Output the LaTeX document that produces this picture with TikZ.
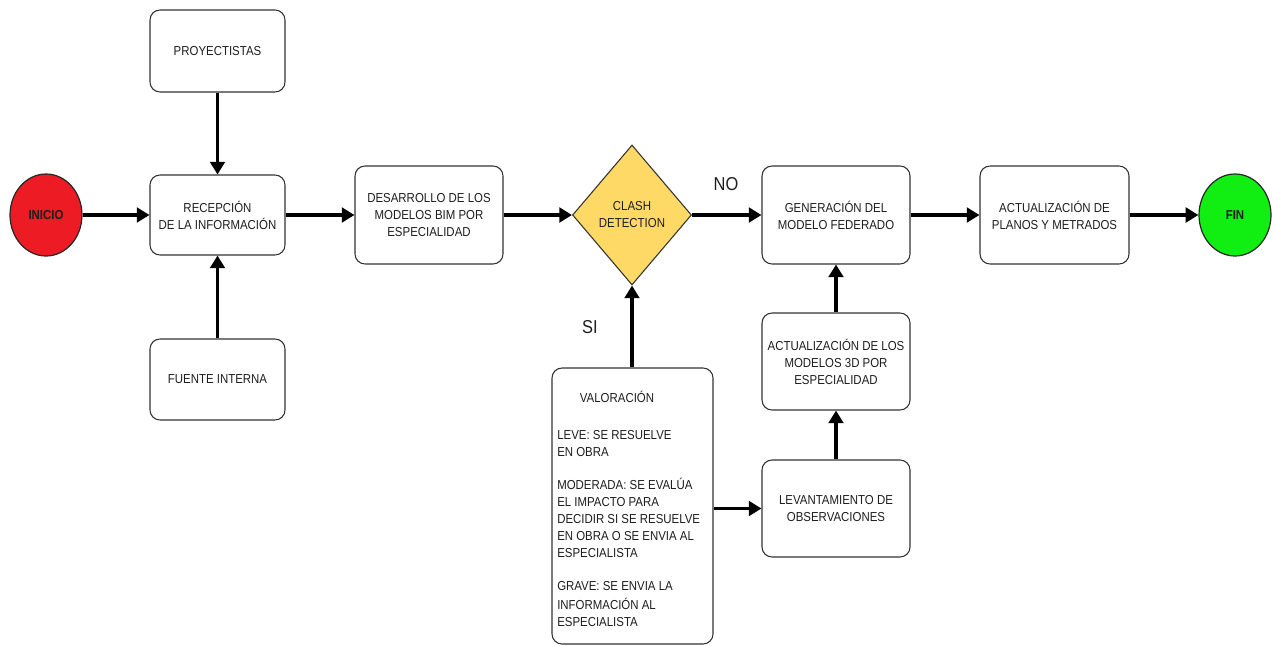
\documentclass[tikz,border=0pt]{standalone}
\usepackage{fontspec}
\setmainfont{Liberation Sans}[FakeStretch=0.88]
\usetikzlibrary{shapes.geometric,arrows.meta}
\definecolor{boxline}{HTML}{333333}
\definecolor{txt}{HTML}{1E1E1E}
\definecolor{startred}{HTML}{ED1C24}
\definecolor{endgreen}{HTML}{11EE11}
\definecolor{decision}{HTML}{FFD966}
\begin{document}
\begin{tikzpicture}[x=0.75pt,y=-0.75pt,
  box/.style={draw=boxline, line width=0.8pt, rounded corners=7.5pt, fill=white,
    align=center, text=txt, inner sep=2pt, font=\fontsize{9.75}{12.75}\selectfont},
  terminal/.style={ellipse, draw=black!85, line width=0.9pt, text=txt, inner sep=0pt,
    minimum width=54pt, minimum height=61.5pt, font=\fontsize{9.75}{12}\selectfont\bfseries},
  decide/.style={diamond, draw=boxline, line width=0.8pt, fill=decision, text=txt,
    align=center, inner sep=0pt, minimum width=89.25pt, minimum height=105pt,
    font=\fontsize{9.75}{12.75}\selectfont},
  flow/.style={-{Triangle[length=9.5pt,width=11pt]}, line width=2.3pt, draw=black},
  answer/.style={text=txt, font=\fontsize{14}{16}\selectfont}]
\useasboundingbox (0,0) rectangle (1275,646);

% start and end
\node[terminal, fill=startred] (inicio) at (46,215) {INICIO};
\node[terminal, fill=endgreen] (fin) at (1235,215) {FIN};

% reception of the information
\node[box, minimum width=101.25pt, minimum height=61.5pt] (proy) at (217.5,51) {PROYECTISTAS};
\node[box, minimum width=101.25pt, minimum height=60pt] (rec) at (217.5,215) {RECEPCIÓN\\DE LA INFORMACIÓN};
\node[box, minimum width=101.25pt, minimum height=60.75pt] (fuente) at (217.5,379.5) {FUENTE INTERNA};

% modelling and clash detection
\node[box, minimum width=111pt, minimum height=73.5pt] (des) at (429,215) {DESARROLLO DE LOS\\MODELOS BIM POR\\ESPECIALIDAD};
\node[decide] (clash) at (632,215) {CLASH\\DETECTION};
\node[box, minimum width=111pt, minimum height=73.5pt] (gen) at (836,215) {GENERACIÓN DEL\\MODELO FEDERADO};
\node[box, minimum width=111.75pt, minimum height=73.5pt] (plan) at (1054.5,215) {ACTUALIZACIÓN DE\\PLANOS Y METRADOS};

% clash resolution loop
\node[box, minimum width=111pt, minimum height=72.75pt] (act) at (836,361.5) {ACTUALIZACIÓN DE LOS\\MODELOS 3D POR\\ESPECIALIDAD};
\node[box, minimum width=111pt, minimum height=72.75pt] (lev) at (836,508.5) {LEVANTAMIENTO DE\\OBSERVACIONES};
\node[box, minimum width=120.75pt, minimum height=207pt] (val) at (632.5,506) {};
\node[anchor=north west, align=left, text=txt, inner sep=0pt,
  font=\fontsize{9.75}{12.75}\selectfont] (valtxt) at (557,391)
  {\hspace*{17pt}VALORACIÓN\\[15pt]
   LEVE: SE RESUELVE\\
   EN OBRA\\[12pt]
   MODERADA: SE EVALÚA\\
   EL IMPACTO PARA\\
   DECIDIR SI SE RESUELVE\\
   EN OBRA O SE ENVIA AL\\
   ESPECIALISTA\\[12pt]
   GRAVE: SE ENVIA LA\\[1.5pt]
   INFORMACIÓN AL\\
   ESPECIALISTA};

% connectors
\draw[flow] (inicio) -- (rec);
\draw[flow] (proy) -- (rec);
\draw[flow] (fuente) -- (rec);
\draw[flow] (rec) -- (des);
\draw[flow] (des) -- (clash);
\draw[flow] (clash) -- (gen);
\draw[flow] (gen) -- (plan);
\draw[flow] (plan) -- (fin);
\draw[flow] (val.north -| clash.south) -- (clash.south);
\draw[flow] (val.east |- lev.west) -- (lev.west);
\draw[flow] (lev) -- (act);
\draw[flow] (act) -- (gen);

% decision answers
\node[answer] (no) at (726,184) {NO};
\node[answer] (si) at (590,327) {SI};
\end{tikzpicture}
\end{document}
